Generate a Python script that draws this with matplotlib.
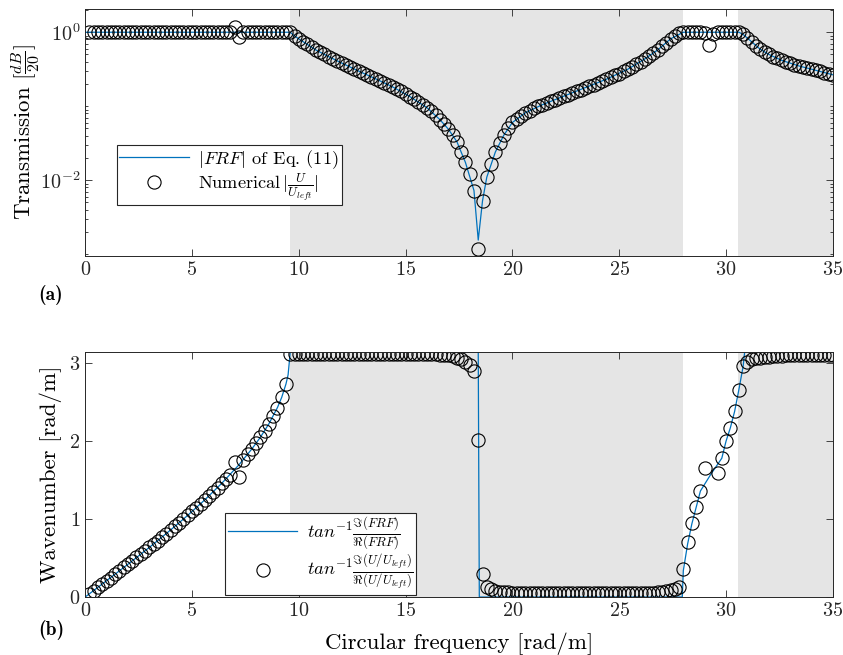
import numpy as np
import matplotlib
matplotlib.use("Agg")
import matplotlib.pyplot as plt
from matplotlib.ticker import FixedLocator, LogLocator, NullFormatter

plt.rcParams["font.family"] = "serif"
plt.rcParams["font.serif"] = ["cmr10"]
plt.rcParams["mathtext.fontset"] = "cm"
plt.rcParams["axes.unicode_minus"] = False
plt.rcParams["axes.formatter.use_mathtext"] = True

# numerical model is sampled every 0.2 rad/m (0.2 ... 35.0)
freq = np.round(np.arange(1, 176) * 0.2, 1)

# gray = stop bands
stop_bands = [(9.57, 27.98), (30.55, 35.0)]

# ---- (a) transmission, stored as log10|T| (= dB/20) ----
num_pass1 = [0.0] * 34 + [0.07, -0.065] + [0.0] * 11          # 0.2 .. 9.4
num_stop1 = [0.0, -0.05, -0.09, -0.13, -0.165, -0.20, -0.24, -0.27, -0.30, -0.33,
             -0.36, -0.39, -0.415, -0.445, -0.47, -0.50, -0.525, -0.55, -0.58, -0.605,
             -0.63, -0.655, -0.68, -0.71, -0.74, -0.77, -0.80, -0.83, -0.87, -0.905,
             -0.94, -0.98, -1.02, -1.07, -1.12, -1.18, -1.24, -1.31, -1.39, -1.48,
             -1.62, -1.76, -1.92, -2.14, -2.93]                     # 9.6 .. 18.4
num_stop2 = [-2.28, -1.96, -1.78, -1.62, -1.50, -1.39, -1.30, -1.22, -1.17, -1.13,
             -1.09, -1.06, -1.03, -1.00, -0.98, -0.955, -0.93, -0.91, -0.89, -0.865,
             -0.845, -0.82, -0.80, -0.775, -0.75, -0.73, -0.71, -0.685, -0.66, -0.635,
             -0.61, -0.585, -0.56, -0.53, -0.50, -0.47, -0.435, -0.40, -0.36, -0.32,
             -0.28, -0.24, -0.19, -0.14, -0.09, -0.05, -0.01]         # 18.6 .. 27.8
num_pass2 = [0.0, 0.0, 0.0, 0.0, 0.0, -0.01, -0.17, -0.03, 0.0, 0.0, 0.0, 0.0, 0.0, 0.0]
num_stop3 = [-0.03, -0.08, -0.13, -0.18, -0.23, -0.27, -0.30, -0.33, -0.355, -0.38,
             -0.40, -0.42, -0.44, -0.455, -0.47, -0.49, -0.50, -0.515, -0.53, -0.545,
             -0.56, -0.575]                                          # 30.8 .. 35.0
trans_num = np.array(num_pass1 + num_stop1 + num_stop2 + num_pass2 + num_stop3)

# analytic FRF (Eq. 11), knots
frf_freq = [0, 9.6, 9.8, 10.0, 10.4, 10.8, 11.4, 12.0, 12.8, 13.6, 14.4, 15.2, 16.0,
            16.6, 17.0, 17.4, 17.8, 18.2, 18.4, 18.6, 18.8, 19.2, 19.6, 20.0, 20.6,
            21.4, 22.4, 23.4, 24.4, 25.4, 26.2, 26.8, 27.4, 28.0, 30.6, 30.8, 31.2,
            31.6, 32.0, 32.6, 33.4, 34.2, 35.0]
frf_mag = [0, 0, -0.05, -0.09, -0.165, -0.24, -0.33, -0.415, -0.525, -0.63, -0.74,
           -0.87, -1.02, -1.18, -1.31, -1.48, -1.76, -2.14, -2.81, -2.28, -1.96, -1.62,
           -1.39, -1.22, -1.09, -0.98, -0.865, -0.75, -0.635, -0.50, -0.36, -0.24,
           -0.09, 0, 0, -0.03, -0.13, -0.23, -0.30, -0.38, -0.455, -0.515, -0.575]

# ---- (b) wavenumber [rad/m] ----
k_pass1 = [0.04, 0.08, 0.13, 0.17, 0.21, 0.25, 0.29, 0.33, 0.38, 0.42,
           0.46, 0.51, 0.55, 0.59, 0.64, 0.68, 0.72, 0.77, 0.81, 0.86,
           0.91, 0.95, 1.00, 1.05, 1.10, 1.14, 1.19, 1.25, 1.30, 1.35,
           1.40, 1.46, 1.52, 1.57, 1.73, 1.54, 1.76, 1.83, 1.90, 1.97,
           2.05, 2.13, 2.22, 2.32, 2.43, 2.56, 2.73]                 # 0.2 .. 9.4
k_stop1 = [3.12] * 35 + [3.11, 3.10, 3.10, 3.09, 3.07, 3.05, 3.02, 2.98, 2.90, 2.01]
k_stop2 = [0.30, 0.13, 0.10, 0.08, 0.07, 0.065, 0.06, 0.055] + [0.05] * 29 + \
          [0.05, 0.052, 0.055, 0.058, 0.062, 0.068, 0.075, 0.085, 0.10, 0.13]
k_pass2 = [0.36, 0.70, 0.95, 1.15, 1.36, 1.65, np.nan, np.nan, 1.59, 1.78,
           2.00, 2.17, 2.38, 2.66]                                   # 28.0 .. 30.6
k_stop3 = [2.96, 3.02, 3.05, 3.06, 3.07, 3.08, 3.08, 3.09, 3.09, 3.09, 3.10,
           3.10, 3.10, 3.10, 3.10, 3.11, 3.11, 3.11, 3.11, 3.11, 3.11, 3.11]
k_num = np.array(k_pass1 + k_stop1 + k_stop2 + k_pass2 + k_stop3)

k_frf_freq = [0, 0.8, 1.6, 2.4, 3.2, 4.0, 4.8, 5.6, 6.4, 7.2, 7.8, 8.2, 8.6, 9.0,
              9.2, 9.4, 9.5, 9.6, 18.4, 18.45, 27.95, 28.0, 28.2, 28.4, 28.6, 28.8,
              29.3, 29.8, 30.0, 30.2, 30.4, 30.6, 30.8, 30.87, 35.0]
k_frf = [0, 0.167, 0.335, 0.505, 0.68, 0.86, 1.047, 1.246, 1.46, 1.696, 1.898,
         2.048, 2.221, 2.429, 2.56, 2.732, 2.85, np.pi, np.pi, 0, 0, 0.34, 0.68,
         0.94, 1.15, 1.36, 1.58, 1.78, 2.0, 2.17, 2.38, 2.66, 2.96, np.pi, np.pi]

blue = "#0072BD"
dark = "#262626"

fig = plt.figure(figsize=(8.43, 6.55), dpi=100)
ax1 = fig.add_axes([0.101, 0.609, 0.887, 0.377])
ax2 = fig.add_axes([0.101, 0.0885, 0.887, 0.374])

for ax in (ax1, ax2):
    for a, b in stop_bands:
        ax.axvspan(a, b, color="#e5e5e5", lw=0, zorder=0)

ax1.plot(frf_freq, 10 ** np.array(frf_mag), color=blue, lw=0.9,
         label=r"$|FRF|$ of Eq. (11)")
ax1.plot(freq, 10 ** trans_num, "o", mfc="none", mec="black", ms=9.5, mew=0.8,
         label=r"Numerical$\,|\frac{U}{U_{left}}|$")
ax1.set_yscale("log")
ax1.set_ylim(9.4e-4, 2.05)
ax1.yaxis.set_major_locator(FixedLocator([1e-2, 1e0]))
ax1.yaxis.set_minor_locator(LogLocator(base=10, subs=np.arange(1, 10)))
ax1.yaxis.set_minor_formatter(NullFormatter())
ax1.set_ylabel(r"Transmission $[\frac{dB}{20}]$", fontsize=16.5)
ax1.yaxis.set_label_coords(-0.058, 0.5)

ax2.plot(k_frf_freq, k_frf, color=blue, lw=0.9,
         label=r"$tan^{-1}\frac{\Im(FRF)}{\Re(FRF)}$")
ax2.plot(freq, k_num, "o", mfc="none", mec="black", ms=9.5, mew=0.8,
         label=r"$tan^{-1}\frac{\Im(U/U_{left})}{\Re(U/U_{left})}$")
ax2.set_ylim(0, np.pi)
ax2.set_yticks([0, 1, 2, 3])
ax2.set_ylabel("Wavenumber [rad/m]", fontsize=16.5)
ax2.yaxis.set_label_coords(-0.031, 0.5)
ax2.set_xlabel("Circular frequency [rad/m]", fontsize=16.5)
ax2.xaxis.set_label_coords(0.5, -0.145)

for ax in (ax1, ax2):
    ax.set_xlim(0, 35)
    ax.set_xticks(range(0, 36, 5))
    ax.tick_params(which="both", direction="in", top=True, right=True,
                   color=dark, labelsize=14.5, labelcolor=dark, width=0.6)
    ax.tick_params(which="major", length=5)
    ax.tick_params(which="minor", length=2.5)
    for s in ax.spines.values():
        s.set_color(dark)
        s.set_linewidth(0.7)

leg_kw = dict(loc="upper left", fontsize=13.2, fancybox=False, edgecolor=dark,
              framealpha=1, borderaxespad=0, handlelength=3.8, borderpad=0.15,
              labelspacing=0.0, handletextpad=0.5)
leg1 = ax1.legend(bbox_to_anchor=(0.042, 0.449), **leg_kw)
leg1.get_frame().set_linewidth(0.8)
leg2 = ax2.legend(bbox_to_anchor=(0.187, 0.343), **leg_kw)
leg2.get_frame().set_linewidth(0.8)

fig.text(0.045, 0.55, "(a)", fontfamily="cmb10", fontsize=14, va="center")
fig.text(0.045, 0.038, "(b)", fontfamily="cmb10", fontsize=14, va="center")

fig.savefig("out.png", dpi=100)
